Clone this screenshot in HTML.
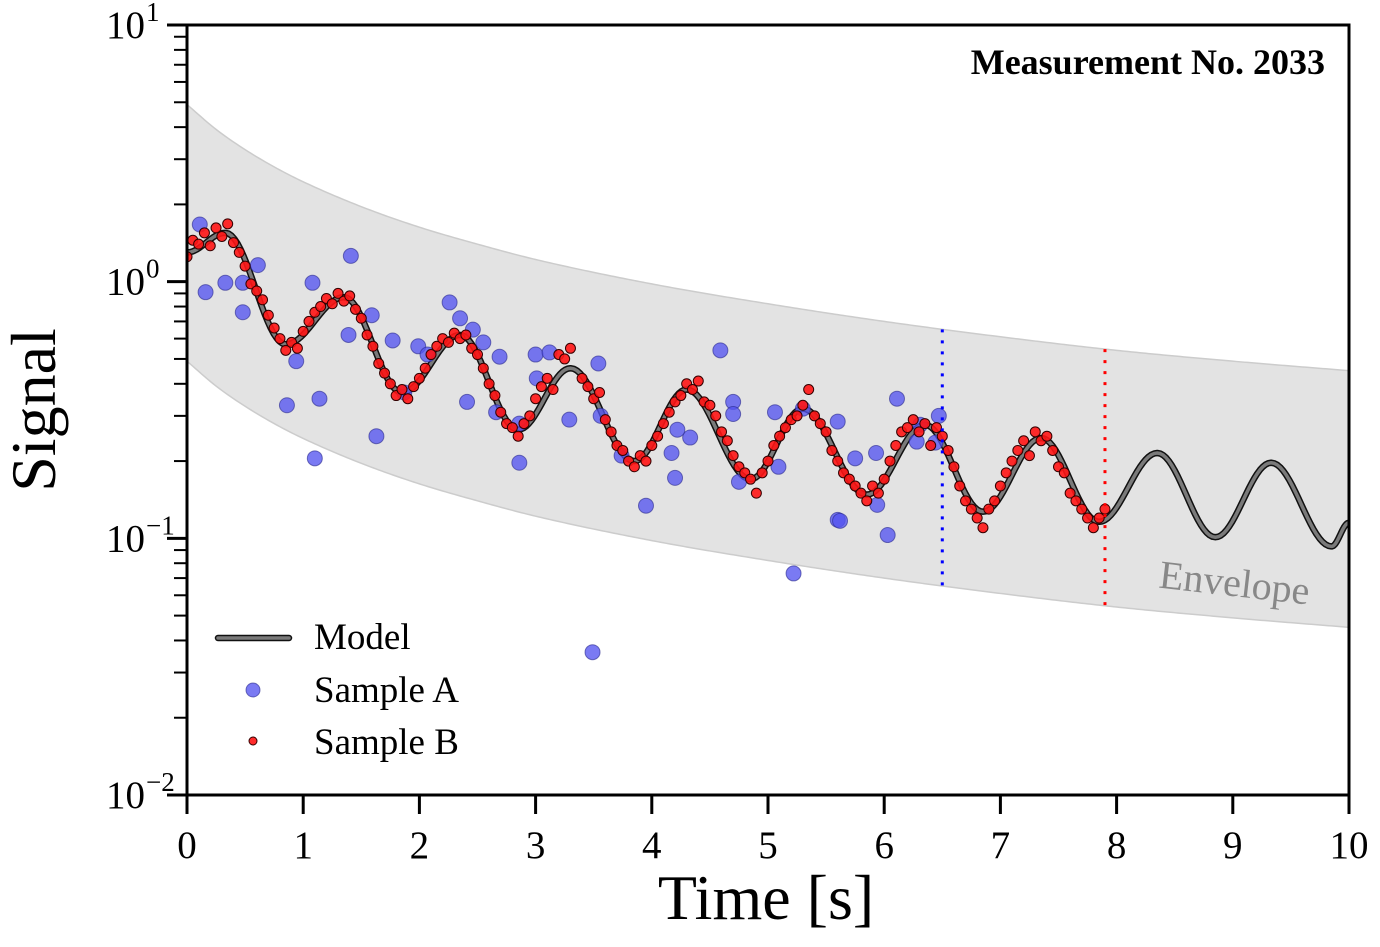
<!DOCTYPE html>
<html><head><meta charset="utf-8"><style>
html,body{margin:0;padding:0;background:#fff;}
svg{display:block;font-family:"Liberation Serif",serif;}
</style></head><body>
<svg id="chart" width="1380" height="947" viewBox="0 0 1380 947"></svg>
<script>
const envT=[0,0.25,0.5,0.75,1,1.5,2,2.5,3,4,5,6,7,8,9,10];
const envUpper=[4.9,3.92,3.27,2.8,2.45,1.96,1.63,1.4,1.22,0.98,0.82,0.70,0.61,0.54,0.49,0.45];
const modelT=[0,0.33,0.85,1.35,1.85,2.35,2.85,3.3,3.85,4.3,4.85,5.3,5.85,6.35,6.85,7.35,7.85,8.35,8.85,9.33,9.85,10];
const modelV=[1.3,1.55,0.57,0.87,0.37,0.62,0.265,0.46,0.20,0.38,0.17,0.32,0.148,0.277,0.127,0.246,0.116,0.215,0.101,0.197,0.093,0.115];
const sampleAT=[0.11,0.16,0.33,0.48,0.48,0.61,0.86,0.94,1.08,1.1,1.14,1.41,1.39,1.59,1.63,1.77,1.87,1.99,2.07,2.26,2.35,2.41,2.46,2.55,2.66,2.69,2.86,2.86,3.0,3.12,3.01,3.29,3.49,3.54,3.56,3.74,3.95,4.17,4.2,4.33,4.22,4.7,4.7,4.59,4.75,5.06,5.09,5.22,5.3,5.6,5.62,5.6,5.75,6.03,6.11,5.93,5.94,6.28,6.31,6.44,6.47];
const sampleAV=[1.67,0.91,0.99,0.76,0.99,1.16,0.33,0.49,0.99,0.205,0.35,1.26,0.62,0.74,0.25,0.59,0.37,0.56,0.52,0.83,0.72,0.34,0.65,0.58,0.31,0.51,0.197,0.28,0.52,0.53,0.42,0.29,0.036,0.48,0.30,0.21,0.134,0.215,0.172,0.247,0.265,0.34,0.305,0.54,0.166,0.31,0.19,0.073,0.32,0.118,0.117,0.285,0.205,0.103,0.35,0.215,0.135,0.238,0.277,0.236,0.30];
const sampleBT=[0,.05,.1,.15,.2,.25,.3,.35,.4,.45,.5,.55,.6,.65,.7,.75,.8,.85,.9,.95,1,1.05,1.1,1.15,1.2,1.25,1.3,1.35,1.4,1.45,1.5,1.55,1.6,1.65,1.7,1.75,1.8,1.85,1.9,1.95,2,2.05,2.1,2.15,2.2,2.25,2.3,2.35,2.4,2.45,2.5,2.55,2.6,2.65,2.7,2.75,2.8,2.85,2.9,2.95,3,3.05,3.1,3.15,3.2,3.25,3.3,3.4,3.45,3.5,3.55,3.6,3.65,3.7,3.75,3.8,3.85,3.9,3.95,4,4.05,4.1,4.15,4.2,4.25,4.3,4.35,4.4,4.45,4.5,4.55,4.6,4.65,4.7,4.75,4.8,4.85,4.9,4.95,5,5.05,5.1,5.15,5.2,5.25,5.3,5.35,5.4,5.45,5.5,5.55,5.6,5.65,5.7,5.75,5.8,5.85,5.9,5.95,6,6.05,6.1,6.15,6.2,6.25,6.3,6.35,6.4,6.45,6.5,6.55,6.6,6.65,6.7,6.75,6.8,6.85,6.9,6.95,7,7.05,7.1,7.15,7.2,7.25,7.3,7.35,7.4,7.45,7.5,7.55,7.6,7.65,7.7,7.75,7.8,7.85,7.9];
const sampleBV=[1.25,1.45,1.40,1.55,1.38,1.62,1.50,1.68,1.42,1.30,1.15,0.98,0.92,0.85,0.74,0.66,0.60,0.54,0.58,0.55,0.64,0.70,0.76,0.80,0.86,0.82,0.90,0.84,0.88,0.78,0.72,0.62,0.56,0.48,0.44,0.40,0.36,0.38,0.35,0.39,0.42,0.46,0.52,0.56,0.60,0.58,0.63,0.60,0.62,0.55,0.52,0.46,0.40,0.36,0.31,0.28,0.27,0.25,0.28,0.30,0.35,0.39,0.42,0.38,0.52,0.50,0.55,0.42,0.39,0.35,0.37,0.29,0.26,0.23,0.22,0.20,0.19,0.21,0.20,0.23,0.25,0.28,0.31,0.34,0.36,0.40,0.38,0.41,0.34,0.33,0.30,0.26,0.24,0.21,0.19,0.18,0.17,0.15,0.18,0.20,0.23,0.25,0.27,0.29,0.30,0.33,0.38,0.30,0.28,0.26,0.22,0.20,0.18,0.17,0.16,0.15,0.14,0.16,0.15,0.17,0.20,0.23,0.26,0.27,0.29,0.26,0.28,0.23,0.27,0.25,0.22,0.19,0.16,0.14,0.13,0.12,0.11,0.13,0.14,0.16,0.18,0.20,0.22,0.24,0.21,0.26,0.24,0.25,0.22,0.19,0.18,0.15,0.14,0.13,0.12,0.11,0.12,0.13];
const xTicks=[0,1,2,3,4,5,6,7,8,9,10];
const yExps=[1,0,-1,-2];

const X0=187,X1=1349,Y0=25,Y1=795;
const sx=t=>X0+(t-0)/(10-0)*(X1-X0);
const sy=v=>Y0+(1-Math.log10(v))/3*(Y1-Y0);
const NS="http://www.w3.org/2000/svg";
const svg=document.getElementById('chart');
function mk(tag,attrs,parent){const e=document.createElementNS(NS,tag);for(const k in attrs)e.setAttribute(k,attrs[k]);(parent||svg).appendChild(e);return e;}

const defs=mk('defs',{});
const cp=mk('clipPath',{id:'clip'},defs);
mk('rect',{x:X0,y:Y0,width:X1-X0,height:Y1-Y0},cp);
const plot=mk('g',{'clip-path':'url(#clip)'});



// envelope: monotone cubic (log space) through stored points
function envAt(t){
  const n=envT.length;const L=envUpper.map(v=>Math.log10(v));
  let i=0;while(i<n-2&&t>envT[i+1])i++;
  const h=envT[i+1]-envT[i];
  const slope=j=>{if(j<=0)return (L[1]-L[0])/(envT[1]-envT[0]);if(j>=n-1)return (L[n-1]-L[n-2])/(envT[n-1]-envT[n-2]);
    return 0.5*((L[j+1]-L[j])/(envT[j+1]-envT[j])+(L[j]-L[j-1])/(envT[j]-envT[j-1]));};
  const m0=slope(i),m1=slope(i+1);const s=(t-envT[i])/h;
  const h00=2*s*s*s-3*s*s+1,h10=s*s*s-2*s*s+s,h01=-2*s*s*s+3*s*s,h11=s*s*s-s*s;
  return Math.pow(10,h00*L[i]+h10*h*m0+h01*L[i+1]+h11*h*m1);
}
let up=[],lo=[];
for(let i=0;i<=400;i++){const t=i*0.025;const u=envAt(t);up.push(sx(t)+','+sy(u));lo.unshift(sx(t)+','+sy(u/10));}
const band=mk('path',{d:'M'+up.join('L')+'L'+lo.join('L')+'Z',fill:'#e3e3e3',stroke:'#cccccc','stroke-width':1.5},plot);



let mp=[];
for(let i=0;i<modelT.length-1;i++){
  const a=Math.log10(modelV[i]),b=Math.log10(modelV[i+1]);
  for(let k=0;k<20;k++){const f=k/20;const g=(1-Math.cos(Math.PI*f))/2;const t=modelT[i]+(modelT[i+1]-modelT[i])*f;mp.push(sx(t)+','+sy(Math.pow(10,a+(b-a)*g)));}
}
mp.push(sx(modelT[modelT.length-1])+','+sy(modelV[modelV.length-1]));
const mOut=mk('polyline',{points:mp.join(' '),fill:'none',stroke:'#111','stroke-width':6.5,'stroke-linejoin':'round'},plot);


const mIn=mk('polyline',{points:mp.join(' '),fill:'none',stroke:'#7a7a7a','stroke-width':3.5,'stroke-linejoin':'round'},plot);



sampleAT.forEach((t,i)=>{const c=mk('circle',{cx:sx(t),cy:sy(sampleAV[i]),r:7.5,fill:'rgba(85,85,240,0.78)',stroke:'rgba(40,40,140,0.6)','stroke-width':1},plot);

});
sampleBT.forEach((t,i)=>{const c=mk('circle',{cx:sx(t),cy:sy(sampleBV[i]),r:5,fill:'rgba(255,20,20,0.9)',stroke:'#300','stroke-width':1},plot);

});

const vb=mk('line',{x1:sx(6.5),x2:sx(6.5),y1:sy(envAt(6.5)),y2:sy(envAt(6.5)/10),stroke:'#0000ff','stroke-width':3,'stroke-dasharray':'3,8'},plot);


const vr=mk('line',{x1:sx(7.9),x2:sx(7.9),y1:sy(envAt(7.9)),y2:sy(envAt(7.9)/10),stroke:'#ff0000','stroke-width':3,'stroke-dasharray':'3,8'},plot);



const el=mk('text',{x:1233,y:596,'font-size':40,fill:'#888','text-anchor':'middle',transform:'rotate(6.5 1233 596)'});
el.textContent='Envelope';



const fr=mk('rect',{x:X0,y:Y0,width:X1-X0,height:Y1-Y0,fill:'none',stroke:'#000','stroke-width':3});



xTicks.forEach(t=>{
  const l=mk('line',{x1:sx(t),x2:sx(t),y1:Y1,y2:Y1+19,stroke:'#000','stroke-width':3});
  
  
  const tx=mk('text',{x:sx(t),y:858,'font-size':39,'text-anchor':'middle'});
  tx.textContent=t;
  
  
});
yExps.forEach(e=>{
  const y=sy(Math.pow(10,e));
  const l=mk('line',{x1:X0-20,x2:X0,y1:y,y2:y,stroke:'#000','stroke-width':3});
  
  
  const tx=mk('text',{x:145,y:y+13,'font-size':39,'text-anchor':'end'});
  tx.textContent='10';
  
  
  const sp=mk('text',{x:146,y:y-4,'font-size':27,'text-anchor':'start'});
  sp.textContent=(e<0?'\u2212':'')+Math.abs(e);
  
  
  if(e>-2){for(let m=2;m<=9;m++){const yy=sy(m*Math.pow(10,e-1));const ml=mk('line',{x1:X0-13,x2:X0,y1:yy,y2:yy,stroke:'#000','stroke-width':2});
    
    }}
});

const xt=mk('text',{x:766,y:919,'font-size':64,'text-anchor':'middle'});
xt.textContent='Time [s]';


const yt=mk('text',{x:55,y:410,'font-size':64,'text-anchor':'middle',transform:'rotate(-90 55 410)'});
yt.textContent='Signal';



const tt=mk('text',{x:1325,y:74,'font-size':36,'font-weight':'bold','text-anchor':'end'});
tt.textContent='Measurement No. 2033';



const lg=mk('g',{});


mk('line',{x1:218,x2:289,y1:638,y2:638,stroke:'#111','stroke-width':6.5,'stroke-linecap':'round'},lg);
const ll=mk('line',{x1:218,x2:289,y1:638,y2:638,stroke:'#7a7a7a','stroke-width':3.5,'stroke-linecap':'round'},lg);


const la=mk('circle',{cx:253,cy:690,r:7,fill:'rgba(85,85,240,0.78)',stroke:'rgba(40,40,140,0.6)','stroke-width':1},lg);


const lb=mk('circle',{cx:253,cy:741,r:4,fill:'rgba(255,20,20,0.9)',stroke:'#300','stroke-width':1},lg);


[['Model',649],['Sample A',702],['Sample B',754]].forEach(([s,y])=>{
  const t=mk('text',{x:314,y:y,'font-size':37},lg);
  t.textContent=s;
  
  
});
</script>
</body></html>
